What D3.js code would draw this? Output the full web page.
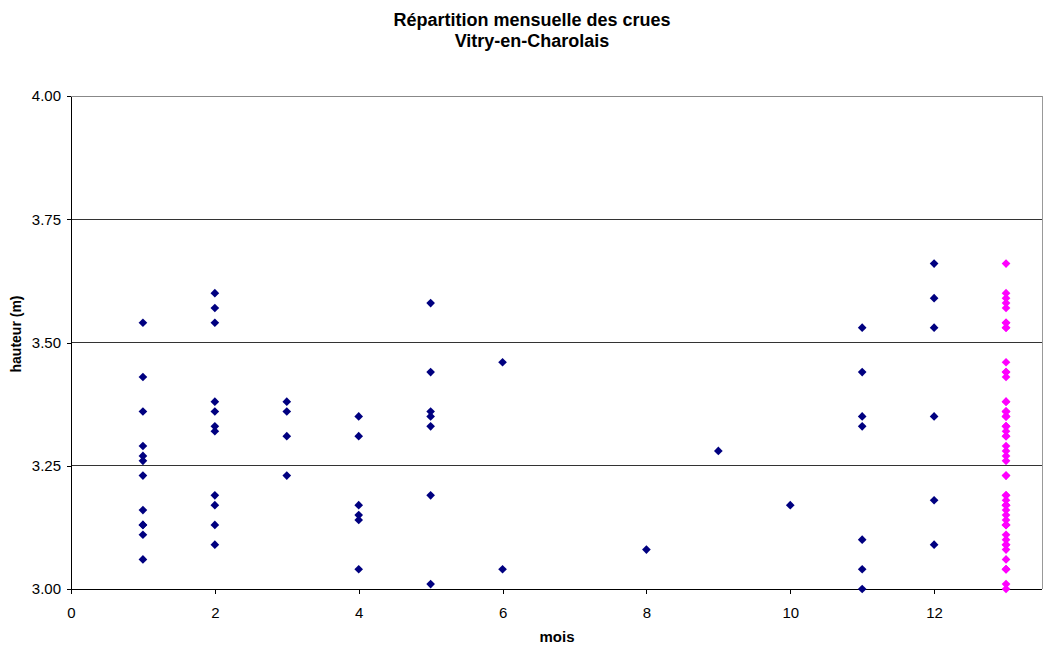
<!DOCTYPE html>
<html>
<head>
<meta charset="utf-8">
<script src="https://cdn.jsdelivr.net/npm/d3@7"></script>
<style>
  body { margin: 0; background: #fff; }
  text { font-family: "Liberation Sans", Arial, sans-serif; }
</style>
</head>
<body>
<script>
// Données : hauteur des crues (m) par mois
let moisJan = [3.54, 3.43, 3.36, 3.29, 3.27, 3.26, 3.23, 3.16, 3.13, 3.13, 3.11, 3.06];
let moisFev = [3.60, 3.57, 3.54, 3.38, 3.36, 3.33, 3.32, 3.19, 3.17, 3.13, 3.09];
let moisMar = [3.38, 3.36, 3.31, 3.23];
let moisAvr = [3.35, 3.31, 3.17, 3.15, 3.14, 3.04];
let moisMai = [3.58, 3.44, 3.36, 3.35, 3.33, 3.19, 3.01];
let moisJuin = [3.46, 3.04];
let moisAout = [3.08];
let moisSept = [3.28];
let moisOct = [3.17];
let moisNov = [3.53, 3.44, 3.35, 3.33, 3.10, 3.04, 3.00];
let moisDec = [3.66, 3.59, 3.53, 3.35, 3.18, 3.09];

// colonne "toutes les crues" (x = 13)
let toutes = [3.66, 3.60, 3.59, 3.58, 3.57, 3.54, 3.54, 3.53, 3.53, 3.46, 3.44, 3.44, 3.43,
  3.38, 3.38, 3.36, 3.36, 3.36, 3.35, 3.35, 3.35, 3.33, 3.33, 3.33, 3.32, 3.31, 3.31, 3.29,
  3.28, 3.27, 3.26, 3.23, 3.23, 3.19, 3.19, 3.18, 3.17, 3.17, 3.17, 3.16, 3.15, 3.14, 3.13,
  3.13, 3.13, 3.11, 3.10, 3.09, 3.09, 3.08, 3.06, 3.04, 3.04, 3.04, 3.01, 3.00];

let moisNum = [1, 2, 3, 4, 5, 6, 8, 9, 10, 11, 12];
let moisVals = [moisJan, moisFev, moisMar, moisAvr, moisMai, moisJuin, moisAout, moisSept, moisOct, moisNov, moisDec];

let xTicks = [0, 2, 4, 6, 8, 10, 12];
let yTicks = [3.00, 3.25, 3.50, 3.75, 4.00];

let titre1 = "Répartition mensuelle des crues";
let titre2 = "Vitry-en-Charolais";

let svgWidth = 1043;
let svgHeight = 645;
let plot = { left: 71, top: 96, right: 1042, bottom: 589 };

let svg = d3.select("body").append("svg")
  .attr("width", svgWidth)
  .attr("height", svgHeight);

let xScale = d3.scaleLinear().domain([0, 13.5]).range([plot.left, plot.right]);
let yScale = d3.scaleLinear().domain([3, 4]).range([plot.bottom, plot.top]);

// grille horizontale
svg.append("g").selectAll("line")
  .data(yTicks.slice(1))
  .enter().append("line")
  .attr("x1", plot.left).attr("x2", plot.right)
  .attr("y1", d => yScale(d)).attr("y2", d => yScale(d))
  .attr("stroke", d => d === 4 ? "#888" : "#333")
  .attr("stroke-width", 1)
  .attr("shape-rendering", "crispEdges");

// bord droit
svg.append("line")
  .attr("x1", plot.right).attr("x2", plot.right)
  .attr("y1", plot.top).attr("y2", plot.bottom)
  .attr("stroke", "#999")
  .attr("shape-rendering", "crispEdges");

// axes
let yAxis = d3.axisLeft(yScale).tickValues(yTicks).tickFormat(d3.format(".2f"))
  .tickSize(4).tickSizeOuter(0).tickPadding(6);
let xAxis = d3.axisBottom(xScale).tickValues(xTicks).tickFormat(d3.format("d"))
  .tickSize(5).tickSizeOuter(0).tickPadding(13);

let gy = svg.append("g")
  .attr("transform", `translate(${plot.left},0)`)
  .call(yAxis);
let gx = svg.append("g")
  .attr("transform", `translate(0,${plot.bottom})`)
  .call(xAxis);

[gx, gy].forEach(g => {
  g.selectAll("path, line").attr("stroke", "#000").attr("shape-rendering", "crispEdges");
  g.selectAll("text").attr("fill", "#000")
    .style("font-size", "15px")
    .style("font-family", "'Liberation Sans', Arial, sans-serif");
});
gx.select(".domain").attr("d", `M${plot.left},0H${plot.right}`);

// points
let diamond = d3.symbol().type(d3.symbolDiamond2).size(48);

moisNum.forEach((m, i) => {
  svg.append("g").selectAll("path")
    .data(moisVals[i])
    .enter().append("path")
    .attr("d", diamond)
    .attr("transform", d => `translate(${xScale(m)},${yScale(d)})`)
    .attr("fill", "#000080");
});

svg.append("g").selectAll("path")
  .data(toutes)
  .enter().append("path")
  .attr("d", diamond)
  .attr("transform", d => `translate(${xScale(13)},${yScale(d)})`)
  .attr("fill", "#ff00ff");

// titres
svg.append("text")
  .attr("x", 532).attr("y", 26)
  .attr("text-anchor", "middle")
  .attr("font-size", 18).attr("font-weight", "bold")
  .text(titre1);
svg.append("text")
  .attr("x", 532).attr("y", 47)
  .attr("text-anchor", "middle")
  .attr("font-size", 18).attr("font-weight", "bold")
  .text(titre2);

svg.append("text")
  .attr("x", 557).attr("y", 642)
  .attr("text-anchor", "middle")
  .attr("font-size", 15).attr("font-weight", "bold")
  .text("mois");

svg.append("text")
  .attr("transform", "translate(21,334) rotate(-90)")
  .attr("text-anchor", "middle")
  .attr("font-size", 14).attr("font-weight", "bold")
  .text("hauteur (m)");
</script>
</body>
</html>
